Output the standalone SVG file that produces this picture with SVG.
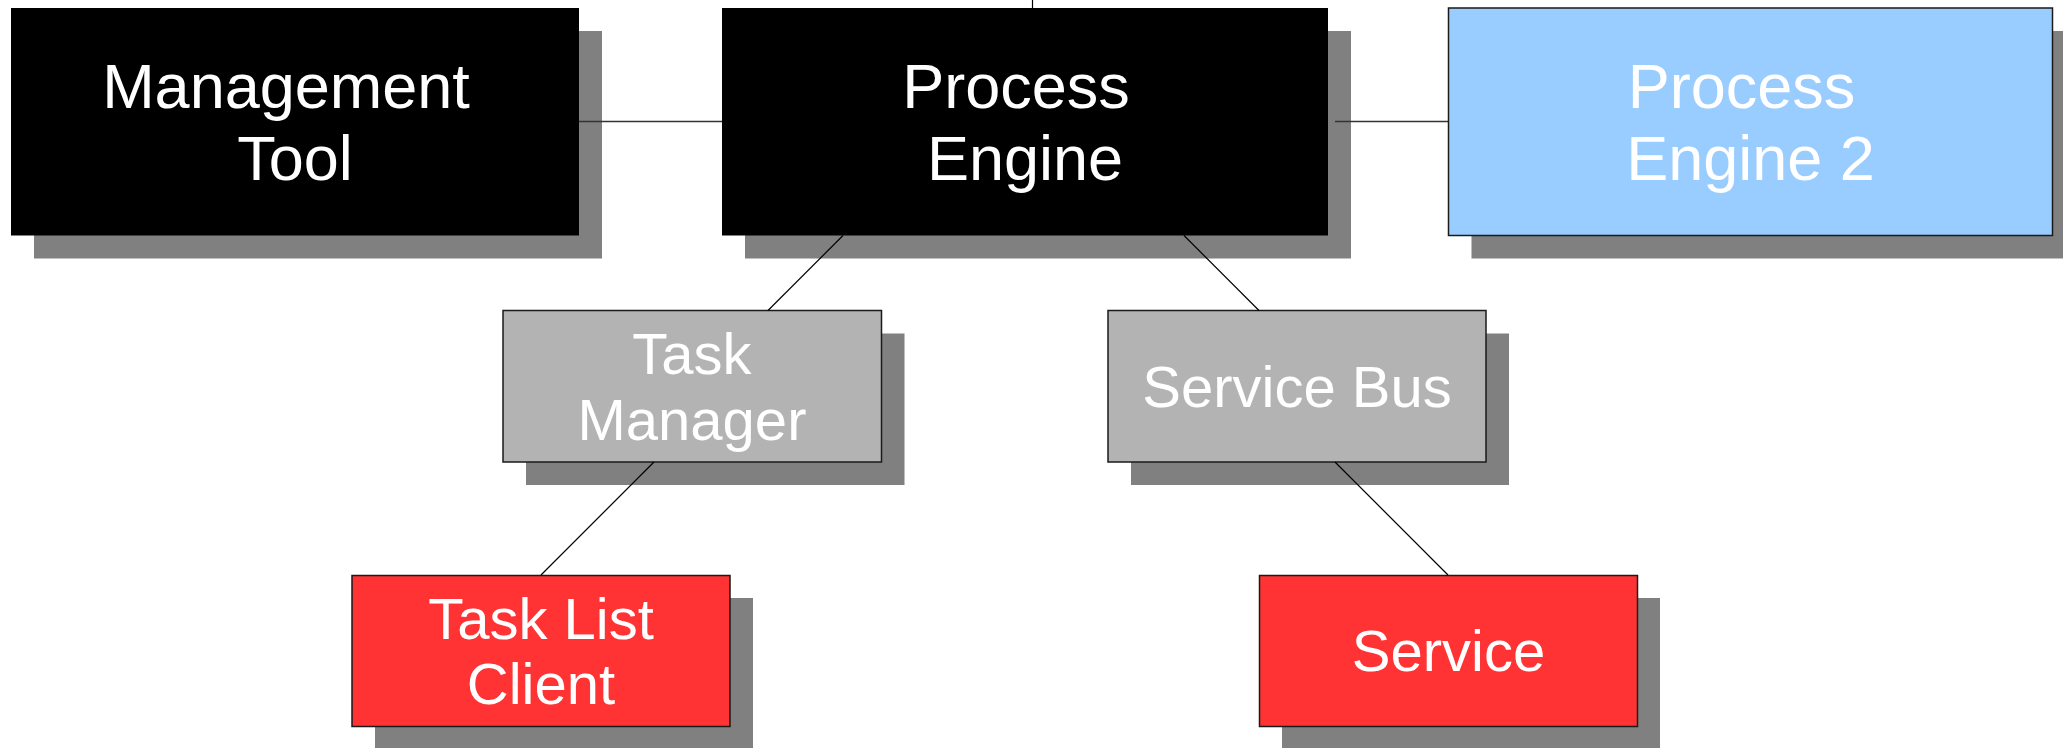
<svg xmlns="http://www.w3.org/2000/svg" width="2063" height="748" viewBox="0 0 2063 748">
<style>
.shadow{fill:#808080}
.box{stroke:#1a1a1a;stroke-width:1.5}
.black{fill:#000000}
.blue{fill:#99ccff}
.gray{fill:#b3b3b3}
.red{fill:#ff3333}
.big{font-family:"Liberation Sans",Arial,sans-serif;font-size:63px;fill:#ffffff;text-anchor:middle}
.small{font-family:"Liberation Sans",Arial,sans-serif;font-size:58px;fill:#ffffff;text-anchor:middle}
.conn{stroke:#000;stroke-width:1.2;fill:none}
.connh{stroke:#333;stroke-width:1.5;fill:none}
</style>
<rect width="2063" height="748" fill="#ffffff"/>
<g id="management-tool">
<rect class="shadow" x="34" y="31" width="568" height="227.5"/>
<rect class="black" x="11" y="8" width="568" height="227.5"/>
<text class="big" x="286" y="108">Management</text>
<text class="big" x="295" y="180">Tool</text>
</g>
<g id="process-engine">
<rect class="shadow" x="745" y="31" width="606" height="227.5"/>
<rect class="black" x="722" y="8" width="606" height="227.5"/>
<text class="big" x="1016" y="108">Process</text>
<text class="big" x="1025" y="180">Engine</text>
</g>
<g id="process-engine-2">
<rect class="shadow" x="1471.5" y="31" width="605" height="227.5"/>
<rect class="box blue" x="1448.5" y="8" width="604" height="227.5"/>
<text class="big" x="1741.5" y="108">Process</text>
<text class="big" x="1750.5" y="180">Engine 2</text>
</g>
<g id="task-manager">
<rect class="shadow" x="526" y="333.5" width="378.5" height="151.5"/>
<rect class="box gray" x="503" y="310.5" width="378.5" height="151.5"/>
<text class="small" x="692" y="374">Task</text>
<text class="small" x="692" y="440">Manager</text>
</g>
<g id="service-bus">
<rect class="shadow" x="1131" y="333.5" width="378" height="151.5"/>
<rect class="box gray" x="1108" y="310.5" width="378" height="151.5"/>
<text class="small" x="1297" y="406.5">Service Bus</text>
</g>
<g id="task-list-client">
<rect class="shadow" x="375" y="598" width="378" height="151"/>
<rect class="box red" x="352" y="575.5" width="378" height="151"/>
<text class="small" x="541" y="639">Task List</text>
<text class="small" x="541" y="704">Client</text>
</g>
<g id="service">
<rect class="shadow" x="1282" y="598" width="378" height="151"/>
<rect class="box red" x="1259.5" y="575.5" width="378" height="151"/>
<text class="small" x="1448.5" y="671">Service</text>
</g>
<g id="connectors">
<line class="conn" x1="1032.5" y1="0" x2="1032.5" y2="8"/>
<line class="connh" x1="579" y1="121.5" x2="722" y2="121.5"/>
<line class="connh" x1="1335" y1="121.5" x2="1448.5" y2="121.5"/>
<line class="conn" x1="843" y1="235.5" x2="768" y2="310.5"/>
<line class="conn" x1="1184" y1="235.5" x2="1259" y2="310.5"/>
<line class="conn" x1="654" y1="462" x2="541" y2="575"/>
<line class="conn" x1="1335" y1="462" x2="1448" y2="575"/>
</g>
</svg>
